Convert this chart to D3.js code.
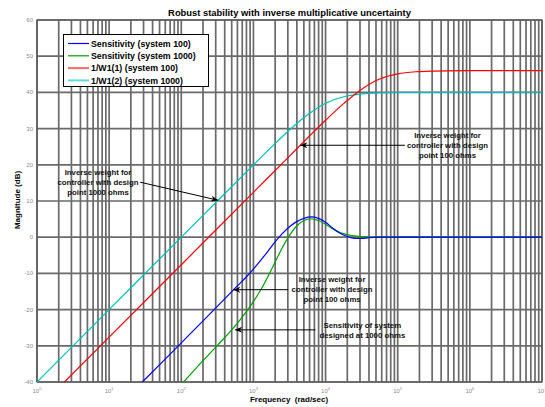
<!DOCTYPE html>
<html>
<head>
<meta charset="utf-8">
<script src="https://cdn.jsdelivr.net/npm/d3@7"></script>
<style>
  html, body { margin: 0; padding: 0; background: #fff; }
  svg { display: block; font-family: "Liberation Sans", Arial, sans-serif; }
</style>
</head>
<body>
<svg id="chart" width="545" height="407"></svg>
<script>
// Frequency axis in decades (log10 of rad/sec), magnitude in dB.
const sens100LogW = [1.0, 1.46, 2.0, 2.5, 2.75, 2.9, 3.0, 3.1, 3.2, 3.3, 3.4, 3.5, 3.6, 3.7, 3.8, 3.9, 4.0, 4.1, 4.2, 4.3, 4.4, 4.5, 4.6, 4.75, 5.0, 7.0];
const sens100Db   = [-49.2, -40, -29.2, -19.1, -14.0, -11.0, -8.8, -6.4, -3.9, -1.3, 1.0, 2.9, 4.3, 5.2, 5.6, 5.2, 4.1, 2.5, 1.1, 0.2, -0.3, -0.35, -0.15, 0, 0, 0];

const sens1000LogW = [1.5, 2.03, 2.25, 2.5, 2.75, 2.9, 3.0, 3.1, 3.2, 3.3, 3.4, 3.5, 3.6, 3.7, 3.8, 3.9, 4.0, 4.1, 4.2, 4.3, 4.4, 4.5, 4.65, 4.8, 7.0];
const sens1000Db   = [-50.6, -40, -35.2, -29.9, -24.4, -20.6, -17.8, -14.6, -10.9, -6.9, -2.9, 0.5, 3.1, 4.6, 5.1, 4.6, 3.6, 2.3, 1.3, 0.7, 0.35, 0.15, 0.05, 0, 0];

const invW1LogW = [0, 0.38, 1.0, 2.0, 3.0, 3.25, 3.5, 3.75, 4.0, 4.25, 4.5, 4.75, 5.0, 5.25, 5.5, 6.0, 7.0];
const invW1Db   = [-47.6, -40, -27.6, -7.6, 12.4, 17.4, 22.4, 27.4, 32.3, 36.9, 40.9, 43.7, 45.1, 45.7, 45.9, 46.0, 46.0];

const invW2LogW = [0, 1.0, 2.0, 2.5, 3.0, 3.25, 3.5, 3.75, 4.0, 4.25, 4.5, 4.75, 5.0, 5.5, 7.0];
const invW2Db   = [-40, -20, 0, 10.0, 20.0, 24.9, 29.6, 33.8, 37.0, 38.8, 39.6, 39.9, 40.0, 40.0, 40.0];

const seriesNames  = ["Sensitivity (system 100)", "Sensitivity (system 1000)", "1/W1(1) (system 100)", "1/W1(2) (system 1000)"];
const seriesColors = ["#0000ff", "#00a000", "#ff0000", "#00bfbf"];

const yTicks = [60, 50, 40, 30, 20, 10, 0, -10, -20, -30, -40];
const xDecades = [0, 1, 2, 3, 4, 5, 6, 7];

const titleText = "Robust stability with inverse multiplicative uncertainty";
const xLabelText = "Frequency  (rad/sec)";
const yLabelText = "Magnitude (dB)";

// Annotations: text block position and arrow tail/tip in (log10 w, dB)
const annotations = [
  { lines: ["Inverse weight for", "controller with design", "point 1000 ohms"], tx: 0.846, ty: 15.3, tail: [1.43, 15.2], tip: [2.51, 10.2] },
  { lines: ["Inverse weight for", "controller with design", "point 100 ohms"], tx: 5.69, ty: 25.5, tail: [5.10, 25.4], tip: [3.65, 25.4] },
  { lines: ["Inverse weight for", "controller with design", "point 100 ohms"], tx: 4.09, ty: -14.5, tail: [3.48, -14.5], tip: [2.72, -14.5] },
  { lines: ["Sensitivity of system", "designed at 1000 ohms"], tx: 4.51, ty: -25.6, tail: [3.86, -25.6], tip: [2.746, -25.6] }
];

const W = 545, H = 407;
const m = { left: 37, right: 3, top: 20, bottom: 25 };
const svg = d3.select("#chart");

const x = d3.scaleLog().domain([1, 1e7]).range([m.left, W - m.right]);
const y = d3.scaleLinear().domain([-40, 60]).range([H - m.bottom, m.top]);
const xe = e => x(Math.pow(10, e));

// grid
const grid = svg.append("g").attr("stroke", "#6a6a6a").attr("stroke-width", 1.7);
const vLines = [];
for (let d = 0; d < 7; d++) for (let k = 1; k <= 9; k++) vLines.push(k * Math.pow(10, d));
vLines.push(1e7);
grid.selectAll("line.v").data(vLines).join("line")
  .attr("x1", d => x(d)).attr("x2", d => x(d))
  .attr("y1", y(60)).attr("y2", y(-40));
grid.selectAll("line.h").data(yTicks).join("line")
  .attr("x1", x(1)).attr("x2", x(1e7))
  .attr("y1", d => y(d)).attr("y2", d => y(d));

// frame
svg.append("rect")
  .attr("x", x(1)).attr("y", y(60))
  .attr("width", x(1e7) - x(1)).attr("height", y(-40) - y(60))
  .attr("fill", "none").attr("stroke", "#555").attr("stroke-width", 1.2);

// y tick labels
svg.append("g").selectAll("text").data(yTicks).join("text")
  .attr("x", x(1) - 4).attr("y", d => y(d) + 2)
  .attr("text-anchor", "end").attr("font-size", 6).attr("fill", "#8a8a8a")
  .text(d => d);

// x tick labels 10^n
const xl = svg.append("g").attr("fill", "#8a8a8a");
xDecades.forEach(n => {
  const t = xl.append("text")
    .attr("x", xe(n)).attr("y", y(-40) + 11)
    .attr("text-anchor", "middle").attr("font-size", 6);
  t.append("tspan").text("10");
  t.append("tspan").attr("dy", -3).attr("font-size", 4).text(n);
});

// curves
const seriesData = [
  d3.zip(sens100LogW, sens100Db),
  d3.zip(sens1000LogW, sens1000Db),
  d3.zip(invW1LogW, invW1Db),
  d3.zip(invW2LogW, invW2Db)
];
svg.append("clipPath").attr("id", "plotClip").append("rect")
  .attr("x", x(1)).attr("y", y(60))
  .attr("width", x(1e7) - x(1)).attr("height", y(-40) - y(60));
const line = d3.line().x(d => xe(d[0])).y(d => y(d[1])).curve(d3.curveCatmullRom.alpha(0.5));
const drawOrder = [3, 2, 1, 0];
svg.append("g").attr("clip-path", "url(#plotClip)")
  .selectAll("path").data(drawOrder).join("path")
  .attr("d", i => line(seriesData[i]))
  .attr("fill", "none")
  .attr("stroke", i => seriesColors[i])
  .attr("stroke-width", 1.2);

// annotations
const ann = svg.append("g").attr("font-size", 7.8).attr("font-weight", "bold").attr("fill", "#111");
annotations.forEach(a => {
  const cx = xe(a.tx), cy = y(a.ty);
  const n = a.lines.length;
  a.lines.forEach((s, i) => {
    ann.append("text")
      .attr("x", cx).attr("y", cy + (i - (n - 1) / 2) * 10 + 2.8)
      .attr("text-anchor", "middle").text(s);
  });
  const x0 = xe(a.tail[0]), y0 = y(a.tail[1]);
  const x1 = xe(a.tip[0]), y1 = y(a.tip[1]);
  ann.append("line").attr("x1", x0).attr("y1", y0).attr("x2", x1).attr("y2", y1)
    .attr("stroke", "#000").attr("stroke-width", 1);
  const ang = Math.atan2(y1 - y0, x1 - x0) * 180 / Math.PI;
  ann.append("path")
    .attr("d", "M0,0 L-7,-3 L-5,0 L-7,3 Z")
    .attr("fill", "#000")
    .attr("transform", `translate(${x1},${y1}) rotate(${ang})`);
});

// legend
const lg = svg.append("g");
lg.append("rect").attr("x", 63.5).attr("y", 34.5).attr("width", 145).attr("height", 52)
  .attr("fill", "#fff").attr("stroke", "#000").attr("stroke-width", 1);
seriesNames.forEach((name, i) => {
  const ly = 43.5 + i * 12.3;
  lg.append("line").attr("x1", 68).attr("x2", 89).attr("y1", ly).attr("y2", ly)
    .attr("stroke", seriesColors[i]).attr("stroke-width", i >= 2 ? 2 : 1.2)
    .attr("stroke-opacity", i >= 2 ? 0.6 : 1);
  lg.append("text").attr("x", 91).attr("y", ly + 3.2)
    .attr("font-size", 8.8).attr("font-weight", "bold").attr("fill", "#000")
    .text(name);
});

// title and axis labels
svg.append("text").attr("x", 289.5).attr("y", 16)
  .attr("text-anchor", "middle").attr("font-size", 9.4).attr("font-weight", "bold")
  .text(titleText);
svg.append("text").attr("x", 289).attr("y", 402)
  .attr("text-anchor", "middle").attr("font-size", 8).attr("font-weight", "bold")
  .attr("xml:space", "preserve").style("white-space", "pre")
  .text(xLabelText);
svg.append("text")
  .attr("transform", "translate(20,200) rotate(-90)")
  .attr("text-anchor", "middle").attr("font-size", 8).attr("font-weight", "bold")
  .text(yLabelText);
</script>
</body>
</html>
